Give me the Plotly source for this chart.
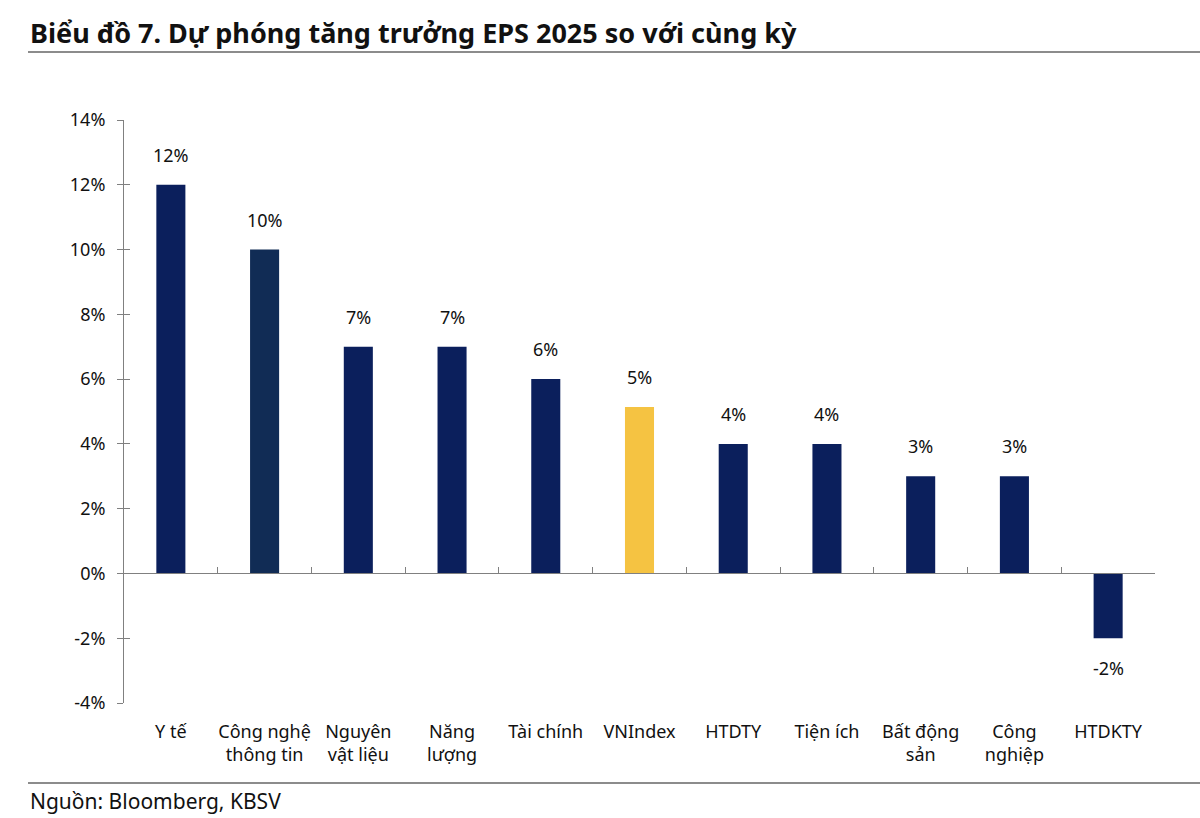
import plotly.graph_objects as go

# ---- data ----
categories = ["Y tế", "Công nghệ<br>thông tin", "Nguyên<br>vật liệu", "Năng<br>lượng",
              "Tài chính", "VNIndex", "HTDTY", "Tiện ích", "Bất động<br>sản",
              "Công<br>nghiệp", "HTDKTY"]
eps_growth = [12, 10, 7, 7, 6, 5.14, 4, 4, 3, 3, -2]
bar_colors = ["#0b1f5c", "#112c55", "#0b1f5c", "#0b1f5c", "#0b1f5c", "#f5c342",
              "#0b1f5c", "#0b1f5c", "#0b1f5c", "#0b1f5c", "#0b1f5c"]
y_tick_vals = [-4, -2, 0, 2, 4, 6, 8, 10, 12, 14]
y_tick_text = ["-4%", "-2%", "0%", "2%", "4%", "6%", "8%", "10%", "12%", "14%"]
title_text = "Biểu đồ 7. Dự phóng tăng trưởng EPS 2025 so với cùng kỳ"
source_text = "Nguồn: Bloomberg, KBSV"

# ---- layout geometry ----
W, H = 1200, 818
ML, MR, MT, MB = 124, 45, 120, 115
plot_w = W - ML - MR
plot_h = H - MT - MB
y_min, y_max = -4, 14
FONT = "Noto Sans"
AXIS_COL = "#808080"


def px_x(x):
    return (x - ML) / plot_w


def px_y(y):
    return (H - MB - y) / plot_h


fig = go.Figure()
fig.add_trace(go.Bar(x=categories, y=eps_growth, marker=dict(color=bar_colors, line=dict(width=0)),
                     showlegend=False, hoverinfo="x+y"))
# helper empty traces so overlay axes render
fig.add_trace(go.Scatter(x=[], y=[], xaxis="x2", yaxis="y", showlegend=False))
fig.add_trace(go.Scatter(x=[], y=[], xaxis="x", yaxis="y2", showlegend=False))

n = len(categories)
zero_pos = (0 - y_min) / (y_max - y_min)

fig.update_layout(
    width=W, height=H,
    margin=dict(l=ML, r=MR, t=MT, b=MB, pad=0),
    paper_bgcolor="white", plot_bgcolor="white",
    bargap=0.69,
    font=dict(family=FONT, size=18, color="#111111"),
    xaxis=dict(type="category", showline=False, ticks="", showgrid=False, zeroline=False,
               tickfont=dict(family=FONT, size=18, color="#111111"),
               ticklabelstandoff=16, range=[-0.5, n - 0.5]),
    xaxis2=dict(overlaying="x", anchor="free", position=zero_pos, type="linear",
                range=[-0.5, n - 0.5], tickvals=[i - 0.5 for i in range(n + 1)],
                ticks="inside", ticklen=6, tickcolor=AXIS_COL, tickwidth=1,
                showline=True, linecolor=AXIS_COL, linewidth=1,
                showticklabels=False, showgrid=False, zeroline=False),
    yaxis=dict(range=[y_min, y_max], tickvals=y_tick_vals, ticktext=y_tick_text,
               ticks="outside", ticklen=6, tickcolor=AXIS_COL, tickwidth=1,
               showline=True, linecolor=AXIS_COL, linewidth=1,
               showgrid=False, zeroline=False, ticklabelstandoff=8,
               tickfont=dict(family=FONT, size=18, color="#111111")),
    yaxis2=dict(overlaying="y", anchor="x", side="left", range=[y_min, y_max],
                tickvals=y_tick_vals, ticks="inside", ticklen=6, tickcolor=AXIS_COL,
                tickwidth=1, showline=False, showticklabels=False, showgrid=False,
                zeroline=False),
)

# value labels
for c, v in zip(categories, eps_growth):
    fig.add_annotation(x=c, y=v, xref="x", yref="y", text=f"{round(v)}%", showarrow=False,
                       yanchor="bottom" if v >= 0 else "top",
                       yshift=16 if v >= 0 else -16,
                       font=dict(family=FONT, size=18, color="#111111"))

# title
fig.add_annotation(x=px_x(28), y=px_y(33), xref="paper", yref="paper", text=f"<b>{title_text}</b>",
                   showarrow=False, xanchor="left", yanchor="middle",
                   font=dict(family=FONT, size=27, color="#111111"))
# source
fig.add_annotation(x=px_x(28), y=px_y(801), xref="paper", yref="paper", text=source_text,
                   showarrow=False, xanchor="left", yanchor="middle",
                   font=dict(family=FONT, size=21, color="#111111"))

# separator lines
for yy in (52, 783):
    fig.add_shape(type="line", xref="paper", yref="paper", x0=px_x(28), x1=px_x(1200),
                  y0=px_y(yy), y1=px_y(yy), line=dict(color="#8c8c8c", width=2))

fig.write_html("out.html", config={"displayModeBar": False},
               post_script="document.body.style.margin='0';document.body.style.overflow='hidden';")
